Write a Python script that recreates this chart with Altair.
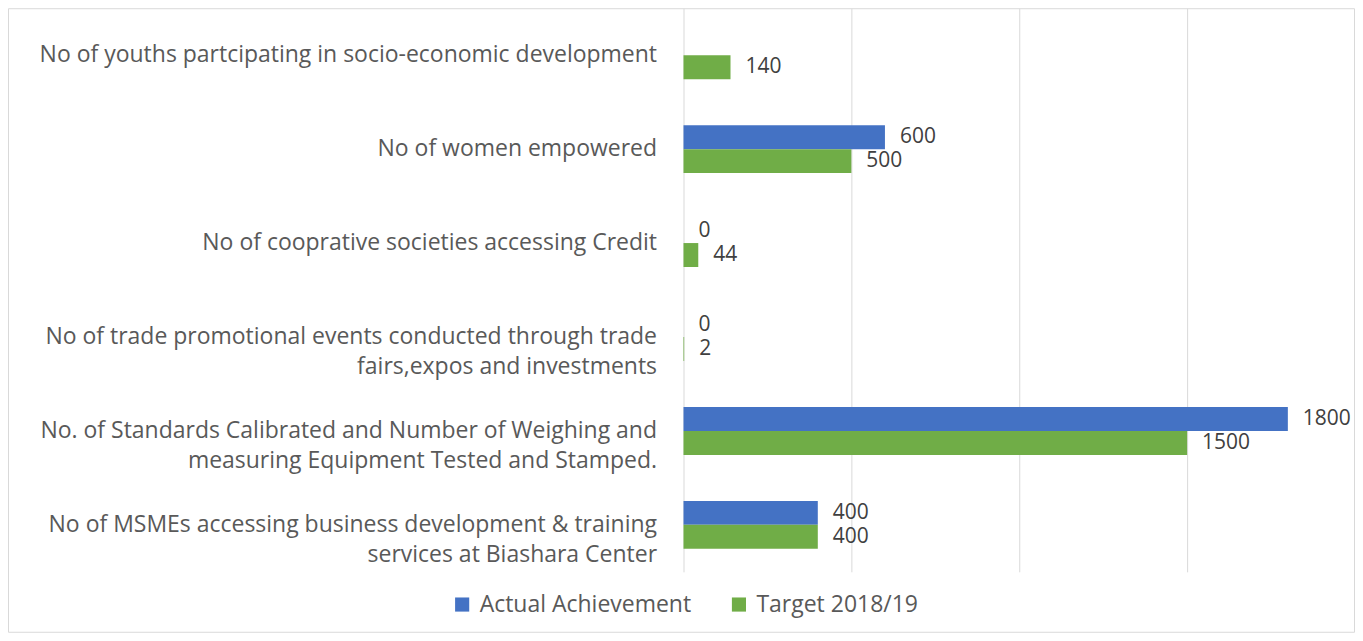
import altair as alt
import pandas as pd

categories = [
    "No of youths partcipating in socio-economic development",
    "No of women empowered",
    "No of cooprative societies accessing Credit",
    "No of trade promotional events conducted through trade|fairs,expos and investments",
    "No. of  Standards Calibrated and Number of Weighing and|measuring Equipment Tested and Stamped.",
    "No of MSMEs accessing business development & training|services at Biashara Center",
]
series = ["Actual Achievement", "Target 2018/19"]
actual = [None, 600, 0, 0, 1800, 400]
target = [140, 500, 44, 2, 1500, 400]
colors = ["#4472C4", "#70AD47"]

rows = []
for c, a, t in zip(categories, actual, target):
    rows.append({"cat": c, "series": series[0], "value": a})
    rows.append({"cat": c, "series": series[1], "value": t})
df = pd.DataFrame(rows)

FONT = "Open Sans"

y_enc = alt.Y(
    "cat:N",
    sort=categories,
    scale=alt.Scale(paddingInner=0, paddingOuter=0),
    axis=alt.Axis(
        title=None,
        labelExpr="split(datum.label, '|')",
        labelAlign="right",
        labelPadding=27,
        labelLimit=700,
        labelFont=FONT,
        labelFontSize=23,
        labelColor="#595959",
        labelLineHeight=30,
        ticks=False,
        domain=False,
        grid=False,
    ),
)
yoff_enc = alt.YOffset(
    "series:N",
    sort=series,
    scale=alt.Scale(paddingInner=0, paddingOuter=0.96),
)
x_enc = alt.X(
    "value:Q",
    scale=alt.Scale(domain=[0, 2000], nice=False),
    axis=alt.Axis(
        title=None,
        values=[0, 500, 1000, 1500, 2000],
        labels=False,
        ticks=False,
        domain=False,
        grid=True,
        gridColor="#d9d9d9",
        gridWidth=1,
    ),
)

bars = alt.Chart(df).mark_bar().encode(
    y=y_enc,
    yOffset=yoff_enc,
    x=x_enc,
    color=alt.Color(
        "series:N",
        sort=series,
        scale=alt.Scale(domain=series, range=colors),
        legend=alt.Legend(
            title=None,
            orient="none",
            legendX=-233,
            legendY=585,
            direction="horizontal",
            symbolType="square",
            symbolSize=200,
            symbolStrokeWidth=0,
            labelFont=FONT,
            labelFontSize=23,
            labelColor="#595959",
            labelLimit=400,
            labelOffset=6,
            columnPadding=36,
        ),
    ),
)

labels = (
    alt.Chart(df)
    .transform_filter("isValid(datum.value)")
    .mark_text(align="left", baseline="middle", dx=15, font=FONT, fontSize=21, color="#404040")
    .encode(y=alt.Y("cat:N", sort=categories), yOffset=alt.YOffset("series:N", sort=series), x="value:Q", text="value:Q")
)

border = alt.Chart(pd.DataFrame({"k": [0]})).mark_rect(
    fill="white", fillOpacity=0, stroke="#d9d9d9", strokeWidth=1
).encode(
    x=alt.value(-675.5), x2=alt.value(671.5), y=alt.value(0.5), y2=alt.value(624.5)
)

chart = (
    alt.layer(border, bars, labels)
    .properties(
        width=672,
        height=564,
        autosize=alt.AutoSizeParams(type="none"),
        padding={"left": 676, "top": 0, "right": 0, "bottom": 61},
        background="white",
    )
    .configure_view(strokeWidth=0)
)

chart.save("out.html", embed_options={"renderer": "svg", "actions": False})
